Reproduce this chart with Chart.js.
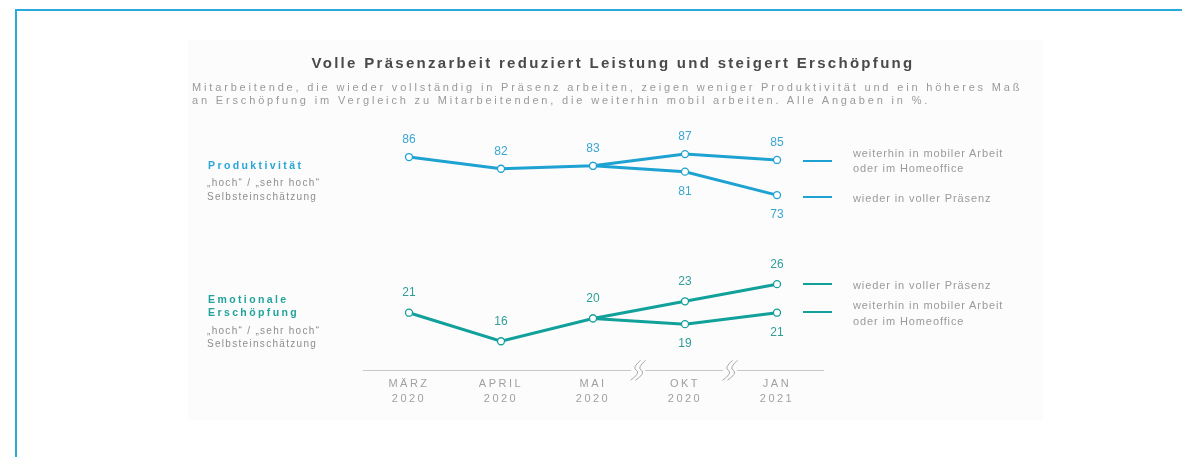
<!DOCTYPE html>
<html lang="de">
<head>
<meta charset="utf-8">
<script src="https://cdn.jsdelivr.net/npm/chart.js@4.4.1/dist/chart.umd.min.js"></script>
<style>
  html,body{margin:0;padding:0;background:#fff;width:1182px;height:457px;overflow:hidden;font-family:"Liberation Sans",Arial,sans-serif;}
  #frame{position:absolute;left:15px;top:9px;width:1167px;height:448px;border-top:2px solid #2aa9df;border-left:2px solid #2aa9df;}
  #photo{position:absolute;left:188px;top:40px;width:855px;height:380px;background:#fcfcfc;}
  #wrap{position:absolute;left:0;top:0;width:1182px;height:457px;}
  .t{position:absolute;white-space:nowrap;line-height:1;}
  #title{left:0;width:1226px;top:55px;text-align:center;font-weight:bold;font-size:15px;letter-spacing:2.3px;color:#4a4a4a;}
  .sub{left:192px;font-size:11px;letter-spacing:2.84px;color:#9a9a9a;}
  .head{left:208px;font-size:10.5px;letter-spacing:2.4px;font-weight:bold;}
  .note{left:207px;font-size:10px;color:#8e8e8e;letter-spacing:1.3px;}
  .leg{left:853px;font-size:11px;color:#9a9a9a;letter-spacing:0.9px;}
  .ln{position:absolute;left:803px;width:29px;height:2px;}
</style>
</head>
<body>
<div id="frame"></div>
<div id="photo"></div>
<div id="wrap"><canvas id="c" width="1182" height="457"></canvas></div>

<div class="t" id="title">Volle Präsenzarbeit reduziert Leistung und steigert Erschöpfung</div>
<div class="t sub" style="top:82px">Mitarbeitende, die wieder vollständig in Präsenz arbeiten, zeigen weniger Produktivität und ein höheres Maß</div>
<div class="t sub" style="top:95px">an Erschöpfung im Vergleich zu Mitarbeitenden, die weiterhin mobil arbeiten. Alle Angaben in %.</div>

<div class="t head" style="top:160px;color:#2aa5d6">Produktivität</div>
<div class="t note" style="top:178px">„hoch“ / „sehr hoch“</div>
<div class="t note" style="top:192px">Selbsteinschätzung</div>

<div class="t head" style="top:294px;color:#22a29c">Emotionale</div>
<div class="t head" style="top:307px;color:#22a29c">Erschöpfung</div>
<div class="t note" style="top:326px">„hoch“ / „sehr hoch“</div>
<div class="t note" style="top:339px">Selbsteinschätzung</div>

<div class="ln" style="top:160px;background:#1ea2d2"></div>
<div class="ln" style="top:196px;background:#1ea2d2"></div>
<div class="t leg" style="top:148px">weiterhin in mobiler Arbeit</div>
<div class="t leg" style="top:163px">oder im Homeoffice</div>
<div class="t leg" style="top:193px">wieder in voller Präsenz</div>

<div class="ln" style="top:283px;background:#11a09a"></div>
<div class="ln" style="top:311px;background:#11a09a"></div>
<div class="t leg" style="top:280px">wieder in voller Präsenz</div>
<div class="t leg" style="top:300px">weiterhin in mobiler Arbeit</div>
<div class="t leg" style="top:316px">oder im Homeoffice</div>

<script>
// ---- data ----
const categories = [["MÄRZ","2020"],["APRIL","2020"],["MAI","2020"],["OKT","2020"],["JAN","2021"]];
const prodMobile   = [86, 82, 83, 87, 85];
const prodPresence = [null, null, 83, 81, 73];
const exhPresence  = [21, 16, 20, 23, 26];
const exhMobile    = [null, null, 20, 19, 21];

const BLUE = '#1ea2d2', TEAL = '#11a09a';
const BLUE_TXT = '#3aa6d2', TEAL_TXT = '#2e9e98';

function ds(data, color, axis, pos, off, from, txt){
  return {
    data, yAxisID: axis, borderColor: color, borderWidth: 3,
    pointRadius: 3.5, pointBorderWidth: 1.3, pointBackgroundColor: '#fff', pointBorderColor: color,
    pointHoverRadius: 3.5, tension: 0, spanGaps: false,
    labelPos: pos, labelOff: off, labelFrom: from, labelColor: txt
  };
}

const labelPlugin = {
  id: 'vlabels',
  beforeDraw(chart){ chart.ctx.letterSpacing = '2.5px'; },
  beforeDatasetsDraw(chart){ chart.ctx.letterSpacing = '0px'; },
  afterDatasetsDraw(chart){
    const ctx = chart.ctx;
    ctx.save();
    ctx.font = '12px "Liberation Sans", Arial, sans-serif';
    ctx.textAlign = 'center';
    ctx.textBaseline = 'middle';
    chart.data.datasets.forEach((d, i) => {
      const meta = chart.getDatasetMeta(i);
      meta.data.forEach((pt, j) => {
        if (d.data[j] == null || j < d.labelFrom) return;
        ctx.fillStyle = d.labelColor;
        const dy = d.labelPos === 'above' ? -d.labelOff : d.labelOff;
        ctx.fillText(String(d.data[j]), pt.x, pt.y + dy);
      });
    });
    // axis break marks
    const xs = chart.scales.x;
    const yb = chart.chartArea.bottom;
    [2.5, 3.5].forEach(v => {
      const x = xs.getPixelForValue(v) - 1;
      ctx.fillStyle = '#fcfcfc';
      ctx.fillRect(x - 7, yb - 2, 14, 4);
      ctx.strokeStyle = '#a8a8a8';
      ctx.lineWidth = 1;
      [-2.5, 2.5].forEach(off => {
        ctx.beginPath();
        ctx.moveTo(x + off + 5, yb - 10);
        ctx.quadraticCurveTo(x + off - 4, yb - 2, x + off + 1, yb);
        ctx.quadraticCurveTo(x + off + 5, yb + 3, x + off - 5, yb + 10);
        ctx.stroke();
      });
    });
    ctx.restore();
  }
};

new Chart(document.getElementById('c'), {
  type: 'line',
  data: {
    labels: categories,
    datasets: [
      ds(prodMobile, BLUE, 'yP', 'above', 17, 0, BLUE_TXT),
      ds(prodPresence, BLUE, 'yP', 'below', 20, 3, BLUE_TXT),
      ds(exhPresence, TEAL, 'yE', 'above', 20, 0, TEAL_TXT),
      ds(exhMobile, TEAL, 'yE', 'below', 20, 3, TEAL_TXT)
    ]
  },
  options: {
    responsive: false,
    animation: false,
    events: [],
    layout: { padding: { left: 363, right: 359, top: 130, bottom: 45 } },
    plugins: { legend: { display: false }, tooltip: { enabled: false }, title: { display: false } },
    scales: {
      x: {
        type: 'category', offset: true,
        grid: { display: false, drawTicks: false },
        border: { display: true, color: '#c8c8c8', width: 1, dash: [2, 2] },
        ticks: { color: '#a0a0a0', padding: 6, font: { size: 11, family: '"Liberation Sans", Arial, sans-serif', lineHeight: 1.35 } }
      },
      yP: { display: false, min: 13.13, max: 95.24 },
      yE: { display: false, min: 10.91, max: 53.02 }
    }
  },
  plugins: [labelPlugin]
});
</script>
</body>
</html>
